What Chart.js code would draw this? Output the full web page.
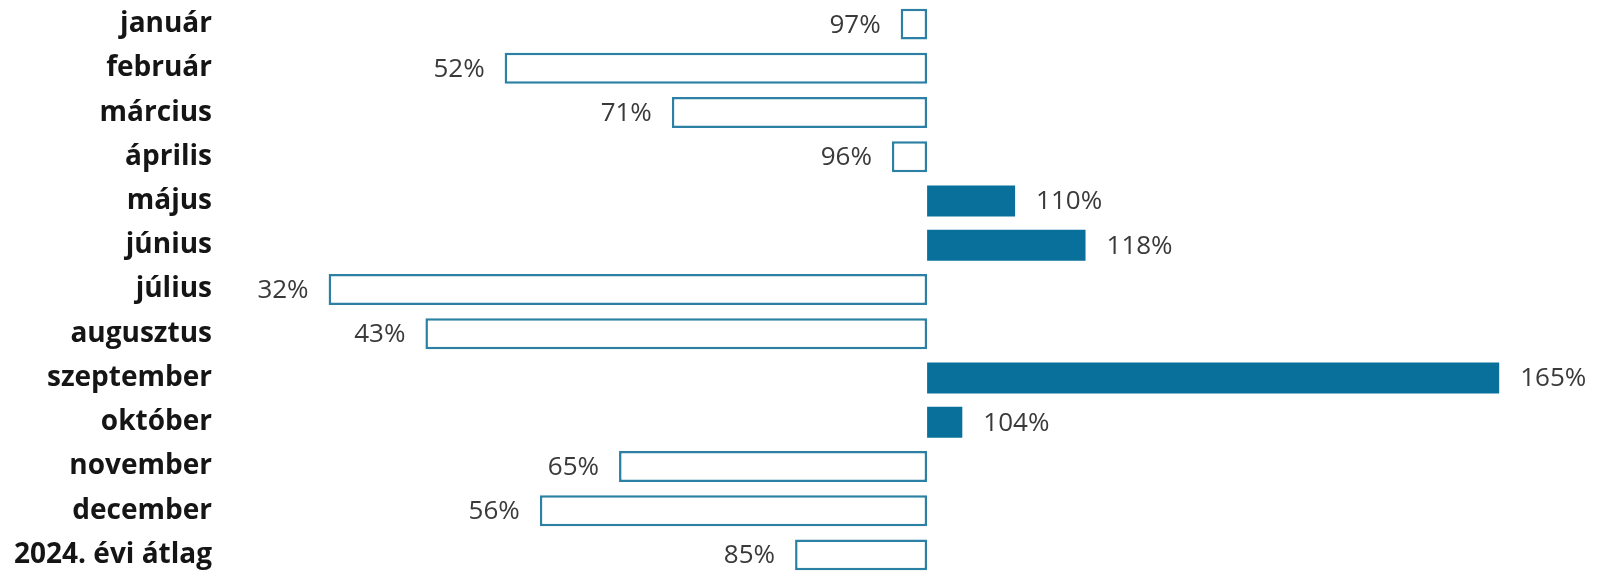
<!DOCTYPE html>
<html>
<head>
<meta charset="utf-8">
<script src="https://cdn.jsdelivr.net/npm/chart.js@4"></script>
<style>
  html, body { margin: 0; padding: 0; background: #fff; overflow: hidden; }
  #wrap { width: 1602px; height: 577px; position: relative; }
</style>
</head>
<body>
<div id="wrap"><canvas id="js-chartjs-months"></canvas></div>
<script>
// Data (percent of normal, 100 = baseline)
const months = ["január", "február", "március", "április", "május", "június", "július",
    "augusztus", "szeptember", "október", "november", "december", "2024. évi átlag"];
const values = [97, 52, 71, 96, 110, 118, 32, 43, 165, 104, 65, 56, 85];
const baseValue = 100;

const TEAL = "#08709b";
const TEAL_LINE = "#2c80a3";

// draws the "97%" style labels next to each bar end
const valueLabels = {
    id: "valueLabels",
    afterDatasetsDraw(chart) {
        const ctx = chart.ctx;
        const meta = chart.getDatasetMeta(0);
        ctx.save();
        ctx.font = "26px 'Open Sans'";
        ctx.fillStyle = "#3a3a3a";
        ctx.textBaseline = "middle";
        meta.data.forEach((bar, i) => {
            const v = values[i];
            if (v < baseValue) {
                ctx.textAlign = "right";
                ctx.fillText(v + "%", bar.x - 20, bar.y + 1);
            } else {
                ctx.textAlign = "left";
                ctx.fillText(v + "%", bar.x + 21, bar.y + 1);
            }
        });
        ctx.restore();
    }
};

document.addEventListener("DOMContentLoaded", function() {
    const element = document.getElementById("js-chartjs-months");
    new Chart(element, {
        type: "bar",
        data: {
            labels: months,
            datasets: [{
                data: values,
                base: baseValue,
                backgroundColor: values.map(v => v >= baseValue ? TEAL : "#ffffff"),
                borderColor: values.map(v => v >= baseValue ? TEAL : TEAL_LINE),
                borderWidth: values.map(v => v >= baseValue ? 0 : 2.5),
                borderSkipped: false,
                barPercentage: 0.7,
                categoryPercentage: 1
            }]
        },
        options: {
            indexAxis: "y",
            responsive: true,
            maintainAspectRatio: false,
            animation: false,
            layout: { padding: { top: 2, right: 6, left: 0, bottom: 0 } },
            scales: {
                x: { display: false, min: 20, max: 176 },
                y: {
                    grid: { display: false, drawTicks: false },
                    border: { display: false },
                    ticks: {
                        padding: 11,
                        color: "#151515",
                        font: { family: "'Open Sans'", size: 28, weight: "bold" }
                    },
                    afterFit: (scale) => {
                        // fixed label column, no extra room above/below the rows
                        scale.width = 223;
                        scale.paddingTop = 0;
                        scale.paddingBottom = 0;
                    }
                }
            },
            plugins: {
                legend: { display: false },
                tooltip: { enabled: false }
            }
        },
        plugins: [valueLabels]
    });
});
</script>
</body>
</html>
